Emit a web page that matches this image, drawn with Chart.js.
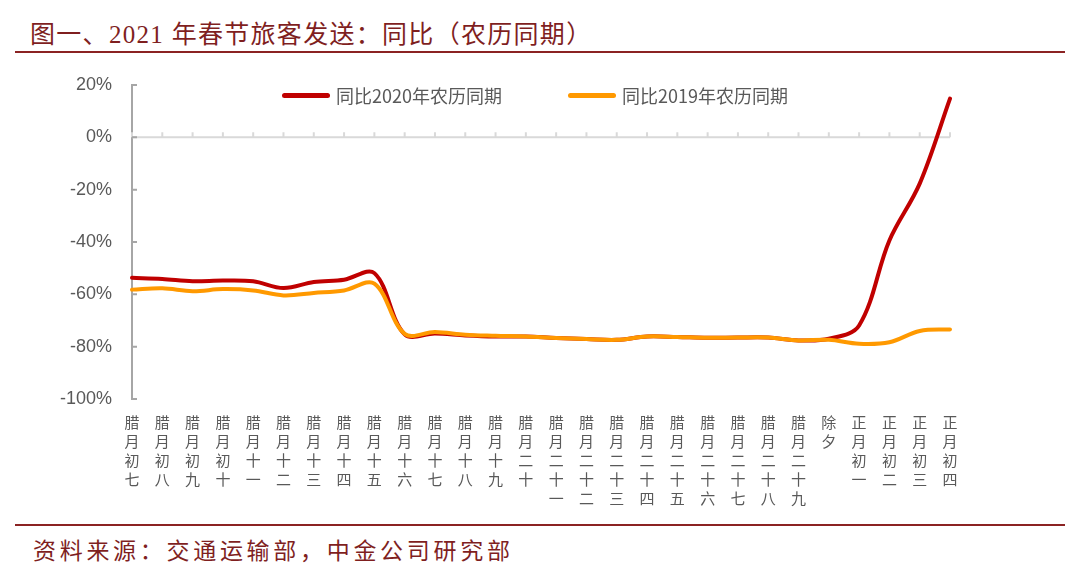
<!DOCTYPE html>
<html>
<head>
<meta charset="utf-8">
<script src="https://cdn.jsdelivr.net/npm/chart.js@4.4.0/dist/chart.umd.min.js"></script>
<style>
  body { margin: 0; width: 1080px; height: 576px; background: #fff; position: relative; overflow: hidden; }
  .title { position: absolute; left: 30px; top: 14px; font: 25px "Liberation Serif", "Noto Sans CJK SC", serif; color: #7f1f1f; letter-spacing: 1.3px; white-space: nowrap; }
  .rule { position: absolute; left: 15px; width: 1050px; height: 2px; background: #8b2323; }
  .source { position: absolute; left: 33px; top: 532px; font: 23px "Liberation Serif", "Noto Sans CJK SC", serif; color: #7f1f1f; letter-spacing: 3.7px; white-space: nowrap; }
  .chartBox { position: absolute; left: 0; top: 60px; width: 1080px; height: 462px; }
  .legend { position: absolute; top: 82px; left: 0; font: 18px "Noto Sans CJK SC", sans-serif; color: #595959; }
  .legend .item { position: absolute; white-space: nowrap; display: flex; align-items: center; }
  .legend .swatch { display: inline-block; width: 48px; height: 5px; border-radius: 3px; margin-right: 6px; }
</style>
</head>
<body>
<div class="title">图一、2021 年春节旅客发送：同比（农历同期）</div>
<div class="rule" style="top:51px"></div>
<div class="chartBox"><canvas id="chart"></canvas></div>
<div class="legend" id="legend"></div>
<div class="rule" style="top:524px"></div>
<div class="source">资料来源：交通运输部，中金公司研究部</div>
<script>
const categories = ['腊月初七', '腊月初八', '腊月初九', '腊月初十', '腊月十一', '腊月十二', '腊月十三',
    '腊月十四', '腊月十五', '腊月十六', '腊月十七', '腊月十八', '腊月十九', '腊月二十',
    '腊月二十一', '腊月二十二', '腊月二十三', '腊月二十四', '腊月二十五', '腊月二十六',
    '腊月二十七', '腊月二十八', '腊月二十九', '除夕', '正月初一', '正月初二', '正月初三', '正月初四'];

const seriesNames = ['同比2020年农历同期', '同比2019年农历同期'];
const seriesColors = ['#c00000', '#ff9900'];

// YoY change, %
const vs2020 = [-53.7, -54.1, -55.0, -54.7, -55.0, -57.6, -55.3, -54.4, -51.9, -75.3, -75.0, -75.7,
    -76.1, -76.1, -76.7, -77.1, -77.4, -76.1, -76.3, -76.6, -76.5, -76.5, -77.6, -77.0,
    -71.9, -39.4, -17.7, 14.8];
const vs2019 = [-58.2, -57.7, -58.8, -58.0, -58.5, -60.4, -59.5, -58.5, -55.9, -75.1, -74.4, -75.4,
    -75.8, -76.1, -76.7, -77.1, -77.4, -76.1, -76.3, -76.6, -76.5, -76.5, -77.6, -77.4,
    -78.9, -78.3, -74.0, -73.4];

const yMin = -100, yMax = 20, yStep = 20;

// legend (html, laid over the plot area)
const legendEl = document.getElementById('legend');
const legendX = [282, 568];
seriesNames.forEach((name, i) => {
    const item = document.createElement('div');
    item.className = 'item';
    item.style.left = legendX[i] + 'px';
    item.innerHTML = `<span class="swatch" style="background:${seriesColors[i]}"></span>${name}`;
    legendEl.appendChild(item);
});

// 0% line with small upward ticks, plus inward ticks on the value axis
const axisMarks = {
    id: 'axisMarks',
    beforeDatasetsDraw(chart) {
        const { ctx, chartArea, scales } = chart;
        const x = scales.x, y = scales.y;
        const y0 = y.getPixelForValue(0);
        ctx.save();
        ctx.strokeStyle = '#d9d9d9';
        ctx.lineWidth = 2;
        ctx.beginPath();
        ctx.moveTo(chartArea.left, y0);
        ctx.lineTo(chartArea.right, y0);
        categories.forEach((c, i) => {
            const px = x.getPixelForValue(i);
            ctx.moveTo(px, y0);
            ctx.lineTo(px, y0 - 5);
        });
        ctx.stroke();
        ctx.strokeStyle = '#a6a6a6';
        ctx.beginPath();
        for (let v = yMin; v <= yMax; v += yStep) {
            const py = y.getPixelForValue(v);
            ctx.moveTo(chartArea.left, py);
            ctx.lineTo(chartArea.left + 5, py);
        }
        ctx.stroke();
        ctx.restore();
    }
};

new Chart(document.getElementById('chart').getContext('2d'), {
    type: 'line',
    data: {
        labels: categories.map(c => c.split('')),
        datasets: [
            { label: seriesNames[0], data: vs2020, borderColor: seriesColors[0], order: 1 },
            { label: seriesNames[1], data: vs2019, borderColor: seriesColors[1], order: 0 }
        ]
    },
    options: {
        responsive: true,
        maintainAspectRatio: false,
        animation: false,
        layout: { padding: { left: 10, right: 130, top: 25, bottom: 2 } },
        elements: {
            line: { borderWidth: 4, tension: 0.35, borderCapStyle: 'round' },
            point: { radius: 0 }
        },
        plugins: { legend: { display: false }, tooltip: { enabled: false } },
        scales: {
            x: {
                grid: { display: false },
                border: { display: false },
                afterFit: s => { s.height = 121; },
                ticks: {
                    autoSkip: false, maxRotation: 0, minRotation: 0, padding: 6,
                    color: '#595959',
                    font: { family: '"Noto Sans CJK SC"', size: 15, lineHeight: 1.27 }
                }
            },
            y: {
                min: yMin, max: yMax,
                grid: { display: false },
                border: { display: true, color: '#a6a6a6', width: 2 },
                afterFit: s => { s.width = 122; },
                ticks: {
                    stepSize: yStep, padding: 12,
                    color: '#595959',
                    font: { family: '"Liberation Sans", Arial', size: 18 },
                    callback: v => v + '%'
                }
            }
        }
    },
    plugins: [axisMarks]
});
</script>
</body>
</html>
